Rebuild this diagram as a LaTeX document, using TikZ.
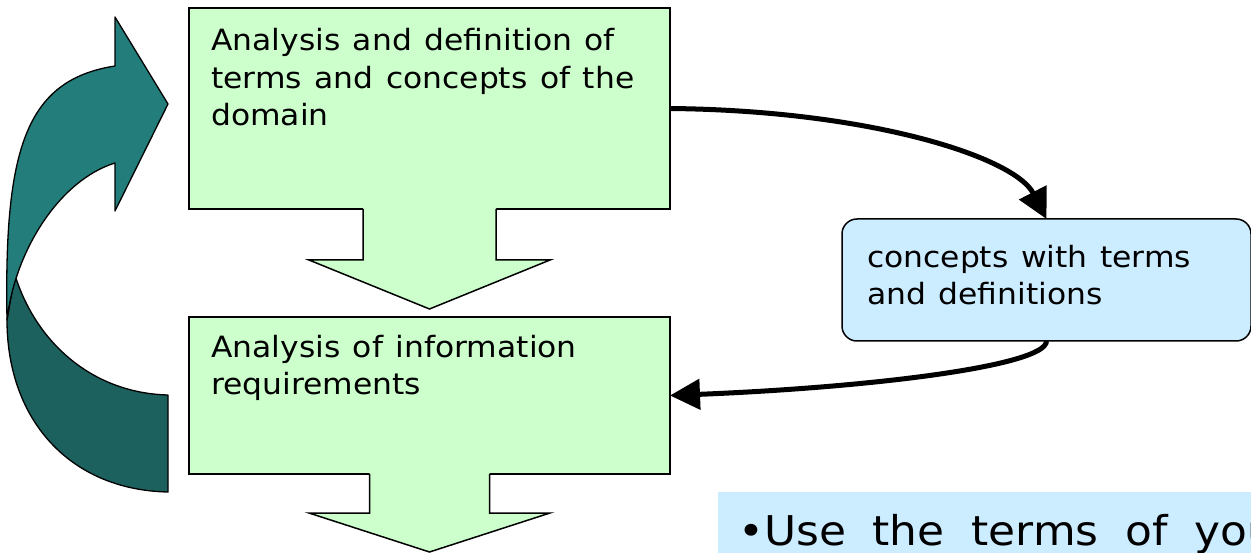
\documentclass[tikz,border=0pt]{standalone}
\usepackage{fontspec}
\usetikzlibrary{arrows.meta,calc}
\newfontfamily\labelfont[FakeStretch=1.07]{DejaVu Sans}
\newcommand\boxtextfont{\labelfont\fontsize{29.3}{37.8}\selectfont
  \spaceskip 12.6pt plus 1pt minus 1pt\relax}
\newcommand\notetextfont{\labelfont\fontsize{41}{48}\selectfont
  \spaceskip 26.8pt\relax}
\definecolor{stepgreen}{HTML}{CCFFCC}
\definecolor{noteblue}{HTML}{CCECFF}
\definecolor{loopfront}{HTML}{237D7B}
\definecolor{loopback}{HTML}{1D615F}

\begin{document}
\begin{tikzpicture}[x=1pt,y=-1pt,
  stepbox/.style={draw=black, line width=1.5pt, fill=stepgreen, rectangle,
    inner sep=0pt, outer sep=0pt, anchor=north west},
  notebox/.style={draw=black, line width=1.5pt, fill=noteblue, rectangle,
    rounded corners=15pt, inner sep=0pt, outer sep=0pt, anchor=north west},
  boxtext/.style={anchor=base west, inner sep=0pt, align=left, font=\boxtextfont},
  flow/.style={line width=5pt, -{Triangle[length=30pt,width=30pt]}},
  bigfill/.style={fill=stepgreen},
  bigedge/.style={draw=black, line width=1.5pt, line join=miter},
  loopedge/.style={draw=black, line width=1.3pt, line join=round}
]
\useasboundingbox (0,0) rectangle (1251,553);
\clip (0,0) rectangle (1251,553);

% process steps
\node[stepbox, minimum width=481pt, minimum height=201pt] (b1) at (189,8) {};
\node[stepbox, minimum width=481pt, minimum height=157pt] (b2) at (189,317) {};
\node[notebox, minimum width=409pt, minimum height=122pt] (cb) at (842,219) {};

% block arrow between the two steps
\begin{scope}[shift={(b1.south)}]
  \fill[bigfill] (-66.5,-2) -- (-66.5,51) -- (-120.5,51) -- (0,100)
    -- (120.5,51) -- (66.5,51) -- (66.5,-2) -- cycle;
  \draw[bigedge] (-66.5,0) -- (-66.5,51) -- (-120.5,51) -- (0,100)
    -- (120.5,51) -- (66.5,51) -- (66.5,0);
\end{scope}
% block arrow below the second step
\begin{scope}[shift={(b2.south)}]
  \fill[bigfill] (-60,-2) -- (-60,39) -- (-120.5,39) -- (0,78)
    -- (120.5,39) -- (60,39) -- (60,-2) -- cycle;
  \draw[bigedge] (-60,0) -- (-60,39) -- (-120.5,39) -- (0,78)
    -- (120.5,39) -- (60,39) -- (60,0);
\end{scope}

% curved feedback arrow on the left: back part, then front part
\path[fill=loopback, loopedge] (7,320) .. controls (7,420) and (70,490) .. (168,492)
  -- (168,395) .. controls (90,393) and (35,340) .. (15,275) -- cycle;
\path[fill=loopfront, loopedge] (7,320) .. controls (4,150) and (25,80) .. (115,66)
  -- (115,17) -- (168,104) -- (115,211) -- (115,163)
  .. controls (60,180) and (15,250) .. (7,320) -- cycle;

% texts (anchored at the baseline of their last line)
\node[boxtext] (t1) at ($(b1.north west)+(22,118)$)
  {Analysis and definition of\\terms and concepts of the\\domain};
\node[boxtext] (t2) at ($(b2.north west)+(22,78)$)
  {Analysis of information\\requirements};
\node[boxtext] (t3) at ($(cb.north west)+(25,86)$)
  {concepts with terms\\and definitions};

% connectors
\draw[flow] (b1.east) .. controls +(200,2) and +(-32,-62) .. (cb.north);
\draw[flow] (cb.south) .. controls +(0,25) and +(200,-8) .. (b2.east);

% note at the bottom
\fill[noteblue] (718,492) rectangle (1260,560);
\node[anchor=base west, inner sep=0pt, font=\notetextfont] (note) at (738,545)
  {•Use the terms of you};
\end{tikzpicture}
\end{document}
